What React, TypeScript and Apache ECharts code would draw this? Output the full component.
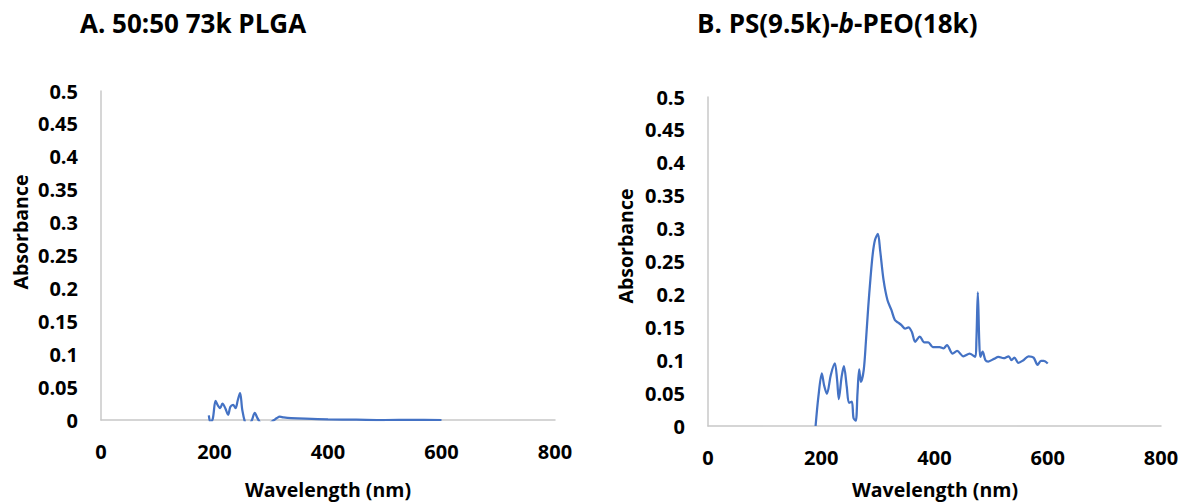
import React, { useEffect, useRef } from "react";
import * as echarts from "echarts";

const xTicks = [0, 200, 400, 600, 800];
const yTicks = [0, 0.05, 0.1, 0.15, 0.2, 0.25, 0.3, 0.35, 0.4, 0.45, 0.5];

const plgaWavelength = [190, 193, 197, 202, 206, 210, 214, 219, 224, 228, 233, 237, 241, 245, 249, 254, 258, 262, 266, 271, 275, 279, 285, 295, 305, 310, 315, 322, 335, 360, 400, 450, 500, 550, 600];
const plgaAbsorbance = [0.007, -0.004, 0.002, 0.029, 0.022, 0.018, 0.025, 0.018, 0.008, 0.02, 0.023, 0.018, 0.03, 0.041, 0.015, -0.004, -0.01, -0.006, 0.0, 0.011, 0.004, -0.002, -0.008, -0.006, 0.0, 0.003, 0.005, 0.004, 0.003, 0.002, 0.001, 0.0005, 0.0, 0.0003, 0.0];

const pspeoWavelength = [190, 195, 201, 205, 210, 217, 224, 228, 231, 236, 240, 245, 249, 254, 257, 261, 264, 267, 270, 275, 279, 283, 287, 291, 295, 300, 304, 310, 317, 324, 330, 336, 342, 348, 354, 360, 366, 374, 382, 389, 397, 409, 416, 422, 432, 440, 451, 462, 472, 474, 476.5, 479, 481, 485, 490, 495, 505, 513, 522, 531, 536, 541, 548, 557, 566, 575, 582, 588, 593, 600];
const pspeoAbsorbance = [0.0, 0.045, 0.08, 0.062, 0.049, 0.078, 0.095, 0.07, 0.041, 0.075, 0.091, 0.06, 0.035, 0.037, 0.012, 0.008, 0.05, 0.086, 0.067, 0.085, 0.13, 0.181, 0.225, 0.262, 0.283, 0.292, 0.267, 0.222, 0.191, 0.176, 0.161, 0.157, 0.153, 0.148, 0.15, 0.143, 0.128, 0.136, 0.127, 0.127, 0.12, 0.12, 0.118, 0.123, 0.11, 0.114, 0.106, 0.11, 0.105, 0.13, 0.203, 0.13, 0.105, 0.113, 0.1, 0.098, 0.102, 0.105, 0.103, 0.106, 0.1, 0.104, 0.096, 0.1, 0.106, 0.104, 0.093, 0.099, 0.099, 0.095];

const titleA = "A. 50:50 73k PLGA";
const xName = "Wavelength (nm)";
const yName = "Absorbance";

const FONT = "'Open Sans', 'DejaVu Sans', sans-serif";
const LINE_COLOR = "#4472C4";
const AXIS_COLOR = "#C8C8C8";

function pairs(xs: number[], ys: number[]) {
  return xs.map((x, i) => [x, ys[i]]);
}

function fmtY(v: number) {
  const r = Math.round(v * 100) / 100;
  return yTicks.includes(r) ? String(r) : "";
}

export default function App() {
  const ref = useRef<HTMLDivElement>(null);
  useEffect(() => {
    if (!ref.current) return;
    const chart = echarts.init(ref.current, null, { renderer: "svg" });
    const labelStyle = { fontFamily: FONT, fontWeight: "bold" as const, fontSize: 20, color: "#000" };
    const mkX = (gi: number) => ({
      type: "value" as const,
      gridIndex: gi,
      min: xTicks[0],
      max: xTicks[xTicks.length - 1],
      interval: 200,
      axisLine: { show: true, lineStyle: { color: AXIS_COLOR, width: 1.5 } },
      axisTick: { show: false },
      splitLine: { show: false },
      axisLabel: { ...labelStyle, margin: 21 },
    });
    const mkY = (gi: number) => ({
      type: "value" as const,
      gridIndex: gi,
      min: 0,
      max: 0.5,
      interval: 0.05,
      axisLine: { show: true, lineStyle: { color: AXIS_COLOR, width: 1.5 } },
      axisTick: { show: false },
      splitLine: { show: false },
      axisLabel: { ...labelStyle, margin: 23, formatter: (v: number) => fmtY(v) },
    });
    const titleStyle = { fontFamily: FONT, fontWeight: "bold" as const, fontSize: 26, fill: "#000" };
    const nameStyle = { fontFamily: FONT, fontWeight: "bold" as const, fontSize: 19.5, fill: "#000" };
    chart.setOption({
      animation: false,
      grid: [
        { left: 101, top: 91, width: 454, height: 329 },
        { left: 708, top: 97, width: 453, height: 329 },
      ],
      xAxis: [mkX(0), mkX(1)],
      yAxis: [mkY(0), mkY(1)],
      series: [
        {
          type: "line",
          xAxisIndex: 0,
          yAxisIndex: 0,
          data: pairs(plgaWavelength, plgaAbsorbance),
          showSymbol: false,
          smooth: 0.35,
          clip: true,
          lineStyle: { color: LINE_COLOR, width: 2.25 },
        },
        {
          type: "line",
          xAxisIndex: 1,
          yAxisIndex: 1,
          data: pairs(pspeoWavelength, pspeoAbsorbance),
          showSymbol: false,
          smooth: 0.3,
          clip: true,
          lineStyle: { color: LINE_COLOR, width: 2.25 },
        },
      ],
      graphic: [
        { type: "text", x: 80, y: 23, style: { ...titleStyle, text: titleA, verticalAlign: "middle" } },
        {
          type: "text",
          x: 697,
          y: 23,
          style: {
            text: "{n|B. PS(9.5k)-}{i|b}{n|-PEO(18k)}",
            ...titleStyle,
            verticalAlign: "middle",
            rich: {
              n: { fontFamily: FONT, fontWeight: "bold", fontSize: 26, color: "#000" },
              i: { fontFamily: FONT, fontWeight: "bold", fontStyle: "italic", fontSize: 26, color: "#000" },
            },
          },
        },
        { type: "text", x: 328, y: 489, style: { ...nameStyle, text: xName, align: "center", verticalAlign: "middle" } },
        { type: "text", x: 935, y: 489, style: { ...nameStyle, text: xName, align: "center", verticalAlign: "middle" } },
        { type: "text", x: 20, y: 232, rotation: Math.PI / 2, style: { ...nameStyle, text: yName, align: "center", verticalAlign: "middle" } },
        { type: "text", x: 625, y: 246, rotation: Math.PI / 2, style: { ...nameStyle, text: yName, align: "center", verticalAlign: "middle" } },
      ],
    });
    return () => chart.dispose();
  }, []);
  return (
    <div
      ref={ref}
      style={{ position: "absolute", left: 0, top: 0, width: 1182, height: 502, background: "#fff" }}
    />
  );
}
